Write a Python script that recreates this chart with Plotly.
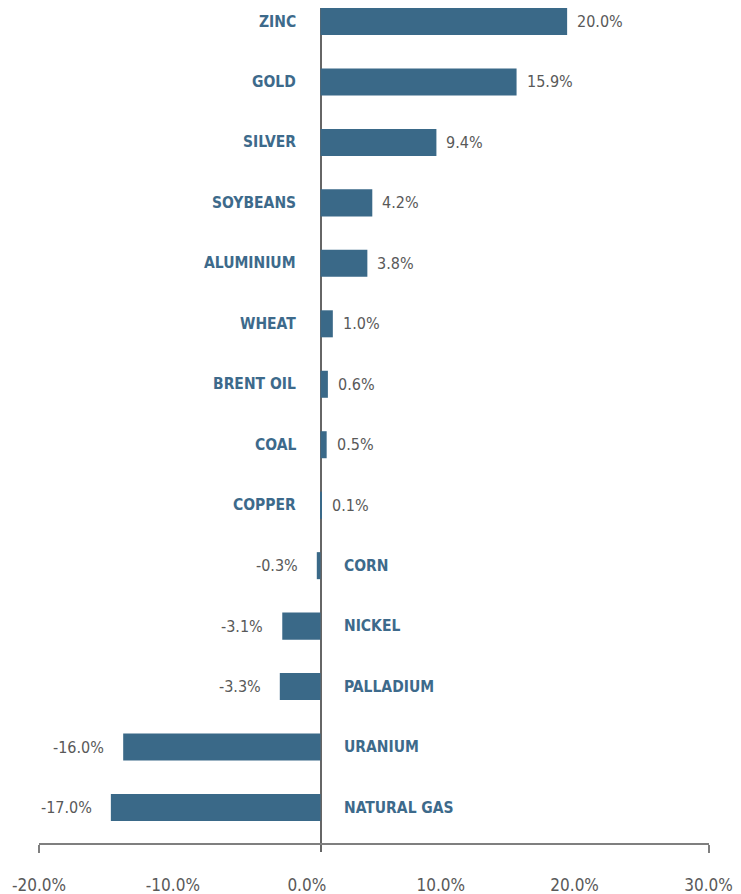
import plotly.graph_objects as go

categories = ["ZINC", "GOLD", "SILVER", "SOYBEANS", "ALUMINIUM", "WHEAT", "BRENT OIL",
              "COAL", "COPPER", "CORN", "NICKEL", "PALLADIUM", "URANIUM", "NATURAL GAS"]
values = [20.0, 15.9, 9.4, 4.2, 3.8, 1.0, 0.6, 0.5, 0.1, -0.3, -3.1, -3.3, -16.0, -17.0]
axis_ticks = [-20, -10, 0, 10, 20, 30]
axis_ticktext = ["-20.0%", "-10.0%", "0.0%", "10.0%", "20.0%", "30.0%"]

W, H = 741, 894
BAR = "#3a6988"
LBL = "#3d6a8b"
GREY = "#595959"
FONT = "DejaVu Sans Condensed, Liberation Sans Narrow, sans-serif"

fig = go.Figure()
fig.add_trace(go.Bar(
    y=categories, x=values, orientation="h",
    marker=dict(color=BAR, line=dict(width=0)),
    hoverinfo="skip", showlegend=False,
))
# empty traces so the bottom scale axes get drawn
fig.add_trace(go.Scatter(x=[], y=[], xaxis="x2", yaxis="y", showlegend=False, hoverinfo="skip"))
fig.add_trace(go.Scatter(x=[], y=[], xaxis="x3", yaxis="y", showlegend=False, hoverinfo="skip"))

annotations = []
for c, v in zip(categories, values):
    pos = v >= 0
    annotations.append(dict(
        x=0, y=c, xref="x", yref="y", text=f"<b>{c}</b>", showarrow=False,
        xanchor="right" if pos else "left", xshift=-23 if pos else 21,
        font=dict(family=FONT, size=15.5, color=LBL)))
    annotations.append(dict(
        x=v, y=c, xref="x", yref="y", text=f"{v:.1f}%", showarrow=False,
        xanchor="left" if pos else "right", xshift=8 if pos else -17,
        font=dict(family=FONT, size=16, color=GREY)))

top_px, bot_px = 8, 852
plot_h = bot_px - top_px
axis_px = 844
axis_pos = (bot_px - axis_px) / plot_h
x2_dom = [39 / W, 708.5 / W]

fig.update_layout(
    width=W, height=H,
    margin=dict(l=0, r=0, t=top_px, b=H - bot_px, pad=0, autoexpand=False),
    plot_bgcolor="rgba(0,0,0,0)", paper_bgcolor="white",
    bargap=0.553,
    annotations=annotations,
    xaxis=dict(range=[-25.99, 34.10], domain=[0, 1], showgrid=False,
               zeroline=True, zerolinecolor="#666666", zerolinewidth=1.5,
               showticklabels=False, ticks="", showline=False, fixedrange=True,
               automargin=False),
    xaxis2=dict(anchor="free", position=axis_pos, domain=x2_dom,
                range=[-20, 30], tickmode="array", tickvals=axis_ticks,
                ticktext=axis_ticktext, ticks="", showgrid=False, zeroline=False,
                showline=True, linecolor="#7f7f7f", linewidth=1.5,
                ticklabelstandoff=26, side="bottom", fixedrange=True, automargin=False,
                tickfont=dict(family=FONT, size=17, color=GREY)),
    xaxis3=dict(anchor="free", position=axis_pos, domain=x2_dom,
                range=[-20, 30], tickmode="array", tickvals=[-20, 30],
                ticks="outside", ticklen=8, tickwidth=1.5, tickcolor="#7f7f7f",
                showticklabels=False, showgrid=False, zeroline=False, showline=False,
                side="bottom", fixedrange=True, automargin=False),
    yaxis=dict(categoryorder="array", categoryarray=categories,
               range=[13.736, -0.2233], showticklabels=False, ticks="",
               showgrid=False, zeroline=False, showline=False, fixedrange=True,
               automargin=False),
)

fig.write_html("out.html")
